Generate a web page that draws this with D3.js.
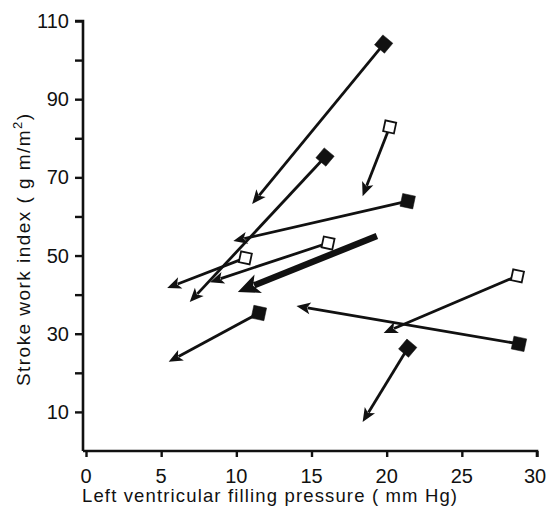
<!DOCTYPE html>
<html>
  <head>
    <meta charset='UTF-8'>
    <style>
    body { margin: 0; background: #fff; }
    svg { background: #fff; }
    text { font-family: 'Liberation Sans', Arial, sans-serif; fill: #111; }
    </style>
  </head>
  <body>
  <script src='https://cdnjs.cloudflare.com/ajax/libs/d3/7.8.5/d3.min.js'></script>
  <script>

    // start point (marker) and end point (arrow tip) for each patient
    var startX = [19.8, 20.2, 15.9, 21.4, 16.1, 10.6, 19.35, 11.5, 28.7, 28.8, 21.4];
    var startY = [104.1, 82.9, 75.2, 63.9, 53.2, 49.4, 55.0, 35.3, 44.8, 27.4, 26.3];
    var endX   = [11.05, 18.4, 6.9, 9.8, 8.25, 5.4, 10.1, 5.5, 19.8, 14.0, 18.4];
    var endY   = [63.2, 65.2, 38.1, 53.7, 43.2, 41.7, 40.7, 22.8, 30.2, 37.1, 7.4];
    // marker kind: diamond (filled), square (filled), open (open square), mean (no marker, thick)
    var kinds  = ['diamond', 'open', 'diamond', 'square', 'open', 'open', 'mean', 'square', 'open', 'square', 'diamond'];

    var xTicks = [0, 5, 10, 15, 20, 25, 30];
    var yTicks = [10, 20, 30, 40, 50, 60, 70, 80, 90, 100, 110];
    var yLabelled = [10, 30, 50, 70, 90, 110];

    var width = 546, height = 507;

    var x = d3.scaleLinear().domain([0, 30]).range([86, 537]);
    var y = d3.scaleLinear().domain([0, 110]).range([451, 21]);

    var svg = d3.select('body')
      .append('svg')
      .attr('width', width)
      .attr('height', height);

    // axes
    var xAxis = d3.axisBottom(x).tickValues(xTicks).tickSize(6).tickFormat('');
    var gx = svg.append('g')
      .attr('transform', 'translate(0,' + y(0) + ')')
      .call(xAxis);
    gx.select('.domain').attr('d', 'M' + (x(0) - 3) + ',0H' + x(30) + 'V6')
      .attr('stroke', '#111').attr('stroke-width', 2.6).attr('fill', 'none');
    gx.selectAll('.tick line').attr('stroke', '#111').attr('stroke-width', 2.4);

    var yAxis = d3.axisLeft(y).tickValues(yTicks).tickSize(8).tickFormat('');
    var gy = svg.append('g')
      .attr('transform', 'translate(' + (x(0) - 3) + ',0)')
      .call(yAxis);
    gy.select('.domain').attr('d', 'M-8,' + y(110) + 'H0V' + y(0))
      .attr('stroke', '#111').attr('stroke-width', 2.6).attr('fill', 'none');
    gy.selectAll('.tick line').attr('stroke', '#111').attr('stroke-width', 2.4);

    // tick labels
    svg.selectAll('.xlab')
      .data(xTicks)
      .enter()
      .append('text')
      .attr('class', 'xlab')
      .attr('x', function(d) { return d === 30 ? x(d) - 2 : x(d); })
      .attr('y', 483)
      .attr('text-anchor', 'middle')
      .attr('font-size', 20)
      .text(function(d) { return d; });

    svg.selectAll('.ylab')
      .data(yLabelled)
      .enter()
      .append('text')
      .attr('class', 'ylab')
      .attr('x', 69)
      .attr('y', function(d) { return y(d) + 7; })
      .attr('text-anchor', 'end')
      .attr('font-size', 20)
      .text(function(d) { return d; });

    // axis titles
    svg.append('text')
      .attr('x', 82)
      .attr('y', 502)
      .attr('font-size', 18.5)
      .attr('textLength', 375)
      .attr('lengthAdjust', 'spacing')
      .text('Left ventricular filling pressure  ( mm Hg)');

    var yt = svg.append('text')
      .attr('transform', 'translate(30,386) rotate(-90)')
      .attr('font-size', 19)
      .attr('textLength', 272)
      .attr('lengthAdjust', 'spacing');
    yt.append('tspan').text('Stroke work index  ( g m/m');
    yt.append('tspan').attr('font-size', 13).attr('dy', -8).text('2');
    yt.append('tspan').attr('dy', 8).text(')');

    // arrows
    var rows = d3.range(startX.length).map(function(i) {
      return { x0: startX[i], y0: startY[i], x1: endX[i], y1: endY[i], kind: kinds[i] };
    });

    var arrows = svg.append('g');
    rows.forEach(function(d) {
      var px0 = x(d.x0), py0 = y(d.y0), px1 = x(d.x1), py1 = y(d.y1);
      var ang = Math.atan2(py1 - py0, px1 - px0);
      var thick = d.kind === 'mean';
      var hl = thick ? 22 : 14, hw = thick ? 10 : 6;
      var bx = px1 - hl * 0.8 * Math.cos(ang), by = py1 - hl * 0.8 * Math.sin(ang);
      arrows.append('line')
        .attr('x1', px0).attr('y1', py0)
        .attr('x2', bx).attr('y2', by)
        .attr('stroke', '#111')
        .attr('stroke-width', thick ? 6.5 : 2.8);
      var cx = px1 - hl * Math.cos(ang), cy = py1 - hl * Math.sin(ang);
      var nx = -Math.sin(ang), ny = Math.cos(ang);
      arrows.append('path')
        .attr('d', 'M' + px1 + ',' + py1 +
          'L' + (cx + nx * hw) + ',' + (cy + ny * hw) +
          'L' + (px1 - hl * 0.75 * Math.cos(ang)) + ',' + (py1 - hl * 0.75 * Math.sin(ang)) +
          'L' + (cx - nx * hw) + ',' + (cy - ny * hw) + 'Z')
        .attr('fill', '#111');
    });

    // markers
    var marks = rows.filter(function(d) { return d.kind !== 'mean'; });
    svg.selectAll('.mark')
      .data(marks)
      .enter()
      .append('rect')
      .attr('class', 'mark')
      .attr('x', function(d) { return d.kind === 'open' ? -5.5 : -6.5; })
      .attr('y', function(d) { return d.kind === 'open' ? -5.5 : -6.5; })
      .attr('width', function(d) { return d.kind === 'open' ? 11 : 13; })
      .attr('height', function(d) { return d.kind === 'open' ? 11 : 13; })
      .attr('transform', function(d) {
        var r = d.kind === 'diamond' ? 40 : 12;
        return 'translate(' + x(d.x0) + ',' + y(d.y0) + ') rotate(' + r + ')';
      })
      .attr('fill', function(d) { return d.kind === 'open' ? '#fff' : '#111'; })
      .attr('stroke', '#111')
      .attr('stroke-width', function(d) { return d.kind === 'open' ? 1.8 : 0.5; });

  </script>
  </body>
</html>
